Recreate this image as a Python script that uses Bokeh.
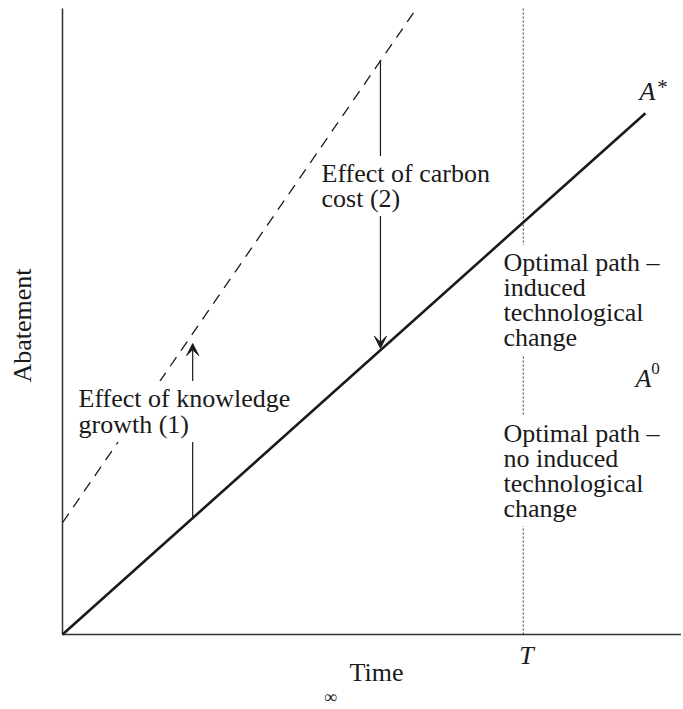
import math
from bokeh.plotting import figure
from bokeh.models import Range1d, Label, Arrow, VeeHead
from bokeh.embed import file_html
from bokeh.resources import INLINE

# ---- data (abstract units) ----
time_path = [0.0, 10.12]
abatement_induced = [0.0, 9.05]          # A* path (solid)
knowledge_time = [0.0, 6.16]
knowledge_abatement = [1.94, 10.89]      # knowledge-growth path (dashed)
T_value = 8.0
axis_top = 10.868
arrow_knowledge_x = 2.26
arrow_knowledge_y = [2.03, 5.05]
arrow_carbon_x = 5.52
arrow_carbon_y = [9.97, 4.97]

# ---- layout helpers ----
W, H = 681, 709
PX = 57.6            # pixels per unit
OX, OY = 62, 634     # pixel position of the origin


def dx(px):
    return (px - OX) / PX


def dy(py):
    return (OY - py) / PX


FONT = "Liberation Serif"
FS = "26px"
INK = "#1a1a1a"

p = figure(width=W, height=H, output_backend="svg", toolbar_location=None,
           x_range=Range1d(dx(0), dx(W)), y_range=Range1d(dy(H), dy(0)),
           min_border=0, min_border_left=0, min_border_right=0,
           min_border_top=0, min_border_bottom=0)
p.axis.visible = False
p.grid.visible = False
p.outline_line_color = None
p.background_fill_color = "white"

# axes
p.line([0, 0], [0, axis_top], line_color="#333333", line_width=1.5)
p.line([0, dx(W)], [0, 0], line_color="#333333", line_width=1.5)

# T vertical dotted
p.line([T_value, T_value], [0, axis_top], line_color="#333333", line_width=1,
       line_dash="2 2")

# dashed knowledge line
p.line(knowledge_time, knowledge_abatement, line_color=INK, line_width=1.3,
       line_dash="11 8")

# solid optimal path
p.line(time_path, abatement_induced, line_color=INK, line_width=2.6)

# arrows
for ax, ay in ((arrow_knowledge_x, arrow_knowledge_y), (arrow_carbon_x, arrow_carbon_y)):
    p.add_layout(Arrow(x_start=ax, y_start=ay[0], x_end=ax, y_end=ay[1],
                       line_color=INK, line_width=1.2,
                       end=VeeHead(size=12, fill_color=INK, line_color=INK,
                                   line_width=1)))


def lab(x, y, text, align="left", baseline="middle", size=FS, style="normal",
        angle=0.0, color=INK, bg=None):
    kw = dict(x=x, y=y, text=text, text_font=FONT, text_font_size=size,
              text_color=color, text_align=align, text_baseline=baseline,
              text_font_style=style, angle=angle)
    if bg:
        kw.update(background_fill_color=bg, padding=3)
    p.add_layout(Label(**kw))


blocks = [
    (78, [398, 424], ["Effect of knowledge", "growth (1)"]),
    (321, [173, 198], ["Effect of carbon", "cost (2)"]),
    (503, [262, 287, 312, 337], ["Optimal path \u2013", "induced", "technological", "change"]),
    (503, [433, 458, 483, 508], ["Optimal path \u2013", "no induced", "technological", "change"]),
]
# white knock-out boxes first, then the text on top
for bx, ys, lines in blocks:
    for yy, t in zip(ys, lines):
        lab(dx(bx), dy(yy), t, color="white", bg="white")
for bx, ys, lines in blocks:
    for yy, t in zip(ys, lines):
        lab(dx(bx), dy(yy), t)

lab(dx(376), dy(672), "Time", align="center")
lab(dx(330), dy(696), "\u221e", align="center", size="18px")
lab(dx(526), dy(655), "T", align="center", style="italic")
lab(dx(22), dy(325), "Abatement", align="center", angle=math.pi / 2)

lab(dx(647), dy(91), "A", align="center", style="italic")
lab(dx(662), dy(86), "*", align="center", size="21px")
lab(dx(643), dy(378), "A", align="center", style="italic")
lab(dx(655), dy(368), "0", align="center", size="17px")

open("out.html", "w").write(file_html(p, INLINE))
